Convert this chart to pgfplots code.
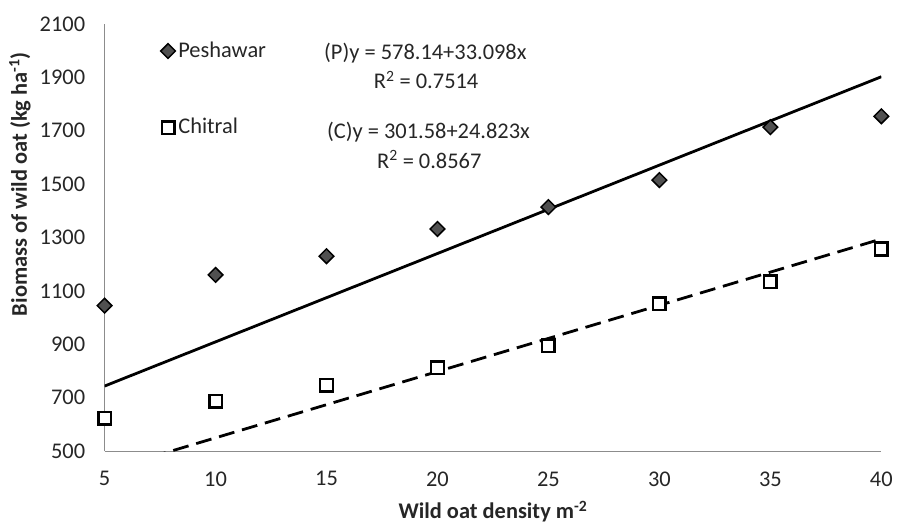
\documentclass[border=0pt]{standalone}
\usepackage{fontspec}
\setmainfont{Carlito}
\usepackage{pgfplots}
\pgfplotsset{compat=1.18}
\definecolor{dgray}{HTML}{505050}
\definecolor{axgray}{HTML}{8C8C8C}
\begin{document}
\fontsize{22bp}{26bp}\selectfont
\begin{tikzpicture}[x=1bp,y=1bp]
\begin{axis}[
  at={(0,0)}, anchor=south west,
  scale only axis, width=780bp, height=429bp,
  xmin=5, xmax=40, ymin=500, ymax=2100,
  xtick={5,10,...,40}, ytick={500,700,...,2100},
  axis x line=bottom, axis y line=left,
  axis line style={draw=axgray, line width=1bp, -},
  major tick length=0pt,
  tick label style={font=\fontsize{22.5bp}{26bp}\selectfont, text=black!85},
  /pgf/number format/assume math mode=true,
  /pgf/number format/1000 sep={},
  xticklabel style={yshift=-13bp},
  yticklabel style={xshift=-12bp},
  xlabel={Wild oat density m\textsuperscript{-2}},
  ylabel={Biomass of wild oat (kg ha\textsuperscript{-1})},
  label style={font=\fontsize{22.5bp}{26bp}\selectfont\bfseries, text=black!85},
  xlabel style={at={(axis description cs:0.5,-0.142)}, anchor=center},
  ylabel style={at={(axis description cs:-0.109,0.625)}, anchor=center, rotate=0},
  clip=true,
  legend style={at={(axis description cs:0.072,0.966)}, anchor=north west,
    draw=none, fill=none, inner sep=0pt,
    font=\fontsize{22.5bp}{26bp}\selectfont, text=black!85,
    row sep=52bp, nodes={inner sep=3bp}},
  legend cell align=left,
  legend image code/.code={\draw[mark repeat=2,mark phase=2,#1] plot coordinates {(0bp,0bp)(8bp,0bp)(21bp,0bp)};},
]
% trend lines
\addplot[black, line width=2.8bp, forget plot] coordinates {(5,743.63) (40,1902.06)};
\addplot[black, line width=2.8bp, dash pattern=on 16bp off 8bp, forget plot] coordinates {(5,425.70) (40,1294.50)};
% data
\addplot[only marks, mark=square*, mark size=5.2bp,
  mark options={rotate=45, fill=dgray, draw=black, line width=1.5bp}]
  coordinates {(5,1045) (10,1160) (15,1230) (20,1332) (25,1414) (30,1515) (35,1713) (40,1754)};
\addlegendentry{Peshawar}
\addplot[only marks, mark=square*, mark size=6.3bp,
  mark options={fill=white, draw=black, line width=2.5bp}]
  coordinates {(5,623) (10,687) (15,746) (20,813) (25,895) (30,1052) (35,1134) (40,1257)};
\addlegendentry{Chitral}
% equations
\node[anchor=center, text=black!85, font=\fontsize{22.5bp}{26bp}\selectfont] at (axis description cs:0.413,0.932) {(P)y = 578.14+33.098x};
\node[anchor=center, text=black!85, font=\fontsize{22.5bp}{26bp}\selectfont] at (axis description cs:0.414,0.869) {R\textsuperscript{2} = 0.7514};
\node[anchor=center, text=black!85, font=\fontsize{22.5bp}{26bp}\selectfont] at (axis description cs:0.417,0.746) {(C)y = 301.58+24.823x};
\node[anchor=center, text=black!85, font=\fontsize{22.5bp}{26bp}\selectfont] at (axis description cs:0.418,0.683) {R\textsuperscript{2} = 0.8567};
\end{axis}
\path[use as bounding box] (-105,-71) rectangle (795,453);
\end{tikzpicture}
\end{document}
